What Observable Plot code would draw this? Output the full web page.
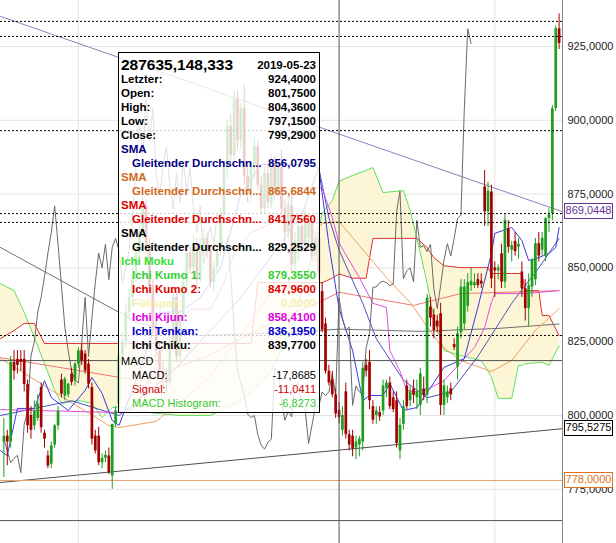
<!DOCTYPE html>
<html><head><meta charset="utf-8">
<script src="https://cdn.jsdelivr.net/npm/d3@7"></script>
<script src="https://cdn.jsdelivr.net/npm/@observablehq/plot@0.6"></script>
<style>
body{margin:0;background:#fff;font-family:"Liberation Sans",Arial,sans-serif;}
#wrap{position:relative;width:616px;height:543px;overflow:hidden;}
#tip{position:absolute;left:118px;top:52px;width:202px;height:361px;border:1px solid #000;background:rgba(255,255,255,0.8);box-sizing:border-box;}
#tip .row{position:absolute;left:2px;right:3px;height:14px;line-height:14px;white-space:nowrap;font:bold 11.5px "Liberation Sans",Arial,sans-serif;}
#tip .row .v{position:absolute;right:0;top:0;}
#tip .title{font-size:15.5px;}
#tip .reg{font-weight:normal;font-size:11px;}
.tag{position:absolute;left:564px;width:49px;height:16px;line-height:15px;font:11px "Liberation Sans",Arial,sans-serif;text-align:center;background:#fff;box-sizing:border-box;border:1px solid #000;}
</style></head><body><div id="wrap"></div>
<script>
// Daily OHLC candles [open, high, low, close], oldest first
const candles = [
[791,799,779,793],[793,795,783,791],[791,820,789,818],[818,822,812,815],[819,822,814,817],
[819,822,815,818],[819,822,808,810.5],[810.5,812,794,796.5],[800,803,792,795],[796.5,805,795,801.5],
[799,807,798,803.8],[809.5,811,794,795.9],[794,795,789,792],[786.3,788,782,782.9],[783.5,791,782,789.7],
[790,797,789,796.5],[796.5,803,795,801.5],[812,814,806,807.2],[806.5,813,805,812.3],[807,811,806,810.6],
[814,816,810,811.2],[811.7,818,810,817.4],[817.4,823,816,821.9],[821.9,824,817,818.5],[820.8,822,814,815.1],
[817.4,819,809,810.6],[809.5,811,790,792],[793,795,787,788],[793,796,783,784],[784,787,782,785.5],
[785.5,788,784,786.5],[786.3,789,780,780.6],[779.5,797,775,797],[797,803,796,801.5],[803.8,822,802,820.2],
[820,828,818,825],[825,838,823,835],[835,843,832,840],[840,850,837,847],[847,858,845,855],
[855,865,852,862],[862,874,860,871],[871,873,855,858],[858,860,842,844],[844,846,828,830],
[830,832,820,822],[822,825,813,815],[815,818,809,812],[812,816,808,811],[811,828,810,825],
[825,843,822,840],[840,842,818,820],[820,836,818,833],[833,848,831,845],[845,858,843,855],
[855,857,848,850],[850,861,848,858],[858,860,844,846],[846,860,845,857],[857,863,854,860],
[860,862,853,856],[856,858,843,845],[845,852,842,850],[850,858,848,856],[856,870,854,868],
[868,886,865,884],[884,900,880,898],[898,902,885,888],[888,910,886,907],[907,910,890,893],
[893,906,890,904],[904,912,878,881],[881,884,872,875],[875,886,872,884],[884,894,880,891],
[891,893,876,878],[878,881,868,870],[870,884,868,882],[882,885,870,872],[872,888,870,886],
[886,888,873,876],[876,886,874,884],[884,890,868,870],[870,873,858,862],[862,874,860,871],
[871,876,848,851],[851,862,849,859],[855,866,852,864],[864,868,855,858],[858,870,855,868],
[860,868,857,865],[865,867,852,854],[854,862,852,860],[860,862,846,848],[842,845,828,829],
[831,833,814,815],[815,817,810,811],[812,815,806,807],[807,809,799,800.5],[801.75,804.36,797.15,799.29],
[795,803,793,800],[808,811,792,793.5],[793.5,795,788,790],[793,795,786,788.6],[789,793,785,791],
[790,793,786,792],[791,818,788,816],[817,819,813,815],[818,822,802,805],[803,805,797,798.4],
[800,803,797,801.5],[801,803,798,799.5],[801.5,812,800,810],[809,812,806,811],[811,813,802,803],
[806,808,801,802],[805,808,789,790.5],[788,799,785,796.7],[797,805,795,803],[810,812,802,803],
[805,810,803,808],[809,812,804,806.8],[806,812,802,808],[803.4,816,800,814.1],[809,813,805,806.8],
[806.8,841,804,839.77],[836.7,840,830,833],[834,836,826,828.8],[832,834,828,830],[834.5,838,800,803.4],
[803.4,812,800,810],[806,810,804,808],[809,811,805,807],[824,826,822,823],[816.4,830,812,827.7],
[828,846,826,843.5],[831,846,829,843.5],[837,848,835,845],[844,850,842,845.5],[844,848,843,845],
[846,848,843,844],[845.5,848,843,844.5],[877.4,883,864,869],[869,879,864,876],[875.7,878,843,846.3],
[850,852,840,849],[849,851,846,850],[854.8,858,843,845.2],[845.2,868,843,866.1],[863.3,866,855,857],
[856,859,852,857.5],[859,862,854,855.5],[857,860,853,858],[848.6,852,840,842.9],[842.9,846,832,836.2],
[836.2,848,830,844],[843.5,853,840,852.6],[846,860,844,858.2],[858.2,862,852,854],[856,862,854,860],
[854,867,852,866.7],[866.7,870,862,868],[868.4,905,866,903.9],[904,932,903,931],[931,936,924,926]
];

// Ichimoku cloud, sampled at bar numbers: leading span A (Kumo 1) and span B (Kumo 2)
const cloudBars = [-1, 3, 6, 9, 12, 15, 17, 22, 26, 29, 32, 34, 43, 52, 61, 70, 73, 75, 79, 85, 89, 94, 97, 99, 103, 107, 109, 112, 118, 120, 122, 125, 127, 130, 135, 141, 143, 144, 146, 150, 152, 153, 154, 158, 159, 161, 164];
const kumo1 = [844.7, 842.3, 835, 826.4, 817.6, 808.5, 804.1, 805.1, 804.1, 799.3, 802.7, 803, 801, 800, 800, 805, 808, 810, 815, 830, 845, 868.4, 872.8, 879.355, 881.3, 883, 884, 875.5, 876.2, 869.4, 860, 845, 833, 822, 820.3, 818.6, 815, 813, 805.8, 805.8, 817, 817, 817.5, 818, 818, 817, 823.7];
const kumo2 = [826, 828.8, 831.2, 831.2, 824.4, 824.4, 824.4, 824.4, 824.4, 824.4, 824.4, 824.4, 824.4, 824.4, 824.4, 824.4, 824.4, 845, 845, 845, 845, 845, 846.5, 847.96, 846.5, 846.5, 860, 860, 860, 860, 860, 856.9, 853.5, 850.7, 850.1, 850.1, 850.1, 848.1, 848.1, 848.1, 848.1, 848.1, 842.3, 842.3, 833.9, 833.9, 827.1];

// Ichimoku base and conversion lines [bar, value]
const kijun = [[-1,802],[34,801],[38,802],[43,812],[49,828],[55,836],[61,836],[65,845],[68,855],[73,862],[79,865],[88,877],[94,877],[97,867],[99,858.41],[105,846.7],[109,838],[113,836.6],[114,822],[117,815],[119,808.5],[122,808],[126,809.4],[130,811.8],[139,823],[142,829.8],[144,838.3],[145,841.3],[154,841.3],[164,842.3]];
const tenkan = [[-1,788.1],[1,786.4],[4,802.4],[9,802.4],[12,811.8],[14,806.1],[19,801.7],[24,808.5],[26,812.9],[29,807.5],[32,798.3],[34,796.6],[40,815],[46,835],[52,835],[58,840],[64,850],[70,875],[76,885],[88,885],[93,884],[96,858],[99,836.195],[103,822],[106,805],[108,806.8],[112,806.8],[114,810.8],[118,801.7],[122,802.7],[126,809.4],[130,816.3],[136,819.3],[140,836.6],[144,854.9],[145,861.7],[150,863.7],[153,859.3],[155,852.5],[158,853.5],[161,854.9],[163,856.9],[164,863.7]];

// Moving averages [bar, value]
const smaNavy = [[-1,800],[20,805],[34,800],[50,815],[70,840],[88,868],[93,884],[96,867],[99,856.0795],[106,838],[110,826],[118,812],[125,806],[132,808],[140,820],[150,838],[158,850],[164,860]];
const smaOrange = [[-1,819.3],[19,805.1],[31,796.6],[34,795.9],[45,798],[60,812],[75,835],[88,858],[94,865],[99,865.6844],[103,860.3],[113,846.7],[120,838.3],[129,823.7],[135,818.6],[144,814.9],[150,818.6],[157,828.8],[164,836.2]];
const smaRed = [[-1,819.6],[40,811.8],[60,820],[80,832],[93,838.3],[99,841.756],[121,837.3],[135,841.3],[164,842.3]];
const smaBlack = [[-1,856.9],[40,831.2],[58,827.1],[82,828],[99,829.2529],[123,828.5],[146,829.5],[164,831]];

// Horizontal levels and trend lines
const dottedLevels = [933.5, 928.4, 896.5, 868.4, 865.4, 827.1];
const solidLevels = [818.6, 764.4];
const supportLevel = 778;
const trendDown = [[-1, 935.2], [165, 869.0448]];
const trendUp = [[-1, 777.3], [165, 795.5275]];
const yTicks = [775, 800, 825, 850, 875, 900, 925];
const monthBars = [22, 145];
const cursorBar = 99;
const lastPrice = 924.4;

const fmt = v => v.toFixed(4).replace(".", ",");
const bars = candles.map(([o, h, l, c], i) => ({i, o, h, l, c, up: c >= o}));
const N = bars.length;
const chiku = bars.slice(26).map(b => ({i: b.i - 26, v: b.c}));
const cloud = cloudBars.map((b, k) => ({i: b, a: kumo1[k], b: kumo2[k]}));
const pairs = arr => arr.map(([i, v]) => ({i, v}));
const RED = "#a30000", GREEN = "#1e9e1e";

const line = (data, stroke) => Plot.line(pairs(data), {x: "i", y: "v", stroke, strokeWidth: 1, clip: true});

const chart = Plot.plot({
  width: 616, height: 543,
  marginTop: 0, marginBottom: 0, marginLeft: 0, marginRight: 54,
  style: {fontFamily: "Liberation Sans, Arial, sans-serif", fontSize: "11px", background: "#fff"},
  x: {domain: [-1, N], axis: null},
  y: {domain: [756.64, 940.58], axis: null},
  marks: [
    Plot.ruleY(yTicks, {stroke: "#e4e4e4"}),
    Plot.ruleX(monthBars, {stroke: "#e4e4e4"}),
    Plot.areaY(cloud, {x: "i", y1: "a", y2: "b", fill: "#fdf6d6", clip: true}),
    Plot.line(cloud, {x: "i", y: "a", stroke: "#5fe05f", strokeWidth: 1, clip: true}),
    Plot.line(cloud, {x: "i", y: "b", stroke: "#dd3030", strokeWidth: 1, clip: true}),
    line(smaBlack, "#707070"),
    line(smaRed, "#ef7a6e"),
    line(smaOrange, "#f0a060"),
    line(smaNavy, "#5050c8"),
    line(kijun, "#e050e0"),
    line(tenkan, "#3a3ae0"),
    Plot.line(chiku, {x: "i", y: "v", stroke: "#6a6a6a", strokeWidth: 1, clip: true}),
    line(trendDown, "#8c82bc"),
    line(trendUp, "#505050"),
    Plot.ruleY([supportLevel], {stroke: "#e8a070"}),
    Plot.ruleY(solidLevels, {stroke: "#555"}),
    Plot.ruleX(bars, {x: "i", y1: "l", y2: "h", stroke: d => d.up ? GREEN : RED, strokeWidth: 1}),
    Plot.ruleX(bars, {x: "i", y1: "o", y2: "c", stroke: d => d.up ? GREEN : RED, strokeWidth: 2.7}),
    Plot.ruleY(dottedLevels, {stroke: "#000", strokeDasharray: "2,2"}),
    Plot.ruleX([cursorBar], {stroke: "#555"}),
    Plot.frame({anchor: "right", stroke: "#888"}),
    Plot.axisY(yTicks, {anchor: "right", tickSize: 0, tickPadding: 5, tickFormat: fmt, fill: "#222", fontSize: 11})
  ]
});

const wrap = document.getElementById("wrap");
wrap.appendChild(chart);
const y = chart.scale("y");

// Price tags on the axis
const tags = [[trendDown[1][1], "#663399"], [trendUp[1][1], "#000"], [supportLevel, "#e07020"]];
for (const [v, col] of tags) {
  const d = document.createElement("div");
  d.className = "tag";
  d.style.top = (y.apply(v) - 8) + "px";
  d.style.color = col;
  d.style.borderColor = col;
  d.textContent = fmt(v);
  wrap.appendChild(d);
}

// Data window for the bar under the crosshair
const cur = bars[cursorBar];
const tipRows = [
  ["Letzter:", fmt(lastPrice), "#000", 0, 1],
  ["Open:", fmt(cur.o), "#000", 0, 1],
  ["High:", fmt(cur.h), "#000", 0, 1],
  ["Low:", fmt(cur.l), "#000", 0, 1],
  ["Close:", fmt(cur.c), "#000", 0, 1],
  ["SMA", "", "#000080", 0, 1],
  ["Gleitender Durchschn...", fmt(smaNavy.find(d => d[0] === cursorBar)[1]), "#000080", 1, 1],
  ["SMA", "", "#d2691e", 0, 1],
  ["Gleitender Durchschn...", fmt(smaOrange.find(d => d[0] === cursorBar)[1]), "#d2691e", 1, 1],
  ["SMA", "", "#e00000", 0, 1],
  ["Gleitender Durchschn...", fmt(smaRed.find(d => d[0] === cursorBar)[1]), "#e00000", 1, 1],
  ["SMA", "", "#000", 0, 1],
  ["Gleitender Durchschn...", fmt(smaBlack.find(d => d[0] === cursorBar)[1]), "#000", 1, 1],
  ["Ichi Moku", "", "#33e033", 0, 1],
  ["Ichi Kumo 1:", fmt(kumo1[cloudBars.indexOf(cursorBar)]), "#33d033", 1, 1],
  ["Ichi Kumo 2:", fmt(kumo2[cloudBars.indexOf(cursorBar)]), "#e00000", 1, 1],
  ["Füllspan:", fmt(0), "#f6f0b0", 1, 1],
  ["Ichi Kijun:", fmt(kijun.find(d => d[0] === cursorBar)[1]), "#e000e0", 1, 1],
  ["Ichi Tenkan:", fmt(tenkan.find(d => d[0] === cursorBar)[1]), "#0000d0", 1, 1],
  ["Ichi Chiku:", fmt(chiku[cursorBar].v), "#000", 1, 1],
  ["MACD", "", "#000", 0, 0],
  ["MACD:", fmt(-17.8685), "#000", 1, 0],
  ["Signal:", fmt(-11.0411), "#d00000", 1, 0],
  ["MACD Histogram:", fmt(-6.8273), "#33cc33", 1, 0]
];
const tip = document.createElement("div");
tip.id = "tip";
const head = document.createElement("div");
head.className = "row";
head.style.top = "3px";
head.style.height = "17px";
head.innerHTML = '<span class="title">287635,148,333</span><span class="v" style="top:3px">2019-05-23</span>';
tip.appendChild(head);
tipRows.forEach(([label, val, col, indent, bold], k) => {
  const r = document.createElement("div");
  r.className = "row" + (bold ? "" : " reg");
  r.style.top = (20 + 14 * k + (k >= 20 ? 2 : 0)) + "px";
  r.style.color = col;
  r.innerHTML = `<span style="margin-left:${indent ? 11 : 0}px">${label}</span><span class="v">${val}</span>`;
  tip.appendChild(r);
});
wrap.appendChild(tip);
</script></body></html>
